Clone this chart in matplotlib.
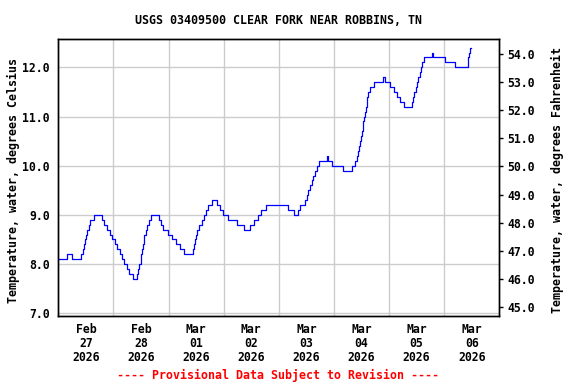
import matplotlib
matplotlib.use("Agg")
import matplotlib.pyplot as plt
from matplotlib.ticker import FixedLocator, NullFormatter

# hours since Feb 27 2026 00:00 where the reading changes, and the new reading (deg C)
hours = [0.0, 3.6, 5.8, 10.1, 10.6, 11.2, 11.7, 12.2, 12.7, 13.2, 14.0, 15.7,
         19.2, 20.1, 21.0, 22.3, 23.4, 24.6, 25.6, 26.8, 27.9, 28.8, 29.8, 30.6,
         32.5, 34.1, 34.8, 35.3, 35.8, 36.2, 36.5, 36.8, 37.1, 37.5, 38.0, 38.6,
         39.3, 40.4, 44.0, 44.8, 45.6, 47.9, 49.7, 51.4, 53.0, 54.6, 58.5, 58.9,
         59.4, 59.9, 60.5, 61.2, 62.6, 63.3, 64.2, 65.1, 66.9, 69.0, 70.6, 71.8,
         74.0, 77.6, 80.8, 83.3, 85.1, 86.8, 88.1, 90.5, 100.1, 102.6, 104.4, 105.3,
         107.5, 108.1, 108.9, 109.8, 110.5, 111.0, 111.6, 112.5, 113.4, 116.8, 117.6, 119.2,
         124.0, 127.7, 129.2, 129.9, 130.5, 131.0, 131.4, 131.8, 132.1, 132.5, 132.8, 133.2,
         133.5, 133.9, 134.2, 134.6, 135.0, 135.6, 137.4, 141.4, 142.3, 144.6, 146.0, 147.5,
         148.9, 150.4, 153.8, 154.4, 155.0, 155.6, 156.1, 156.8, 157.5, 158.0, 158.5, 159.3,
         162.5, 163.0, 168.5, 172.6, 178.2, 178.6, 179.0, 179.4, 179.6]
temps = [8.1, 8.2, 8.1, 8.2, 8.3, 8.4, 8.5, 8.6, 8.7, 8.8, 8.9, 9.0,
         8.9, 8.8, 8.7, 8.6, 8.5, 8.4, 8.3, 8.2, 8.1, 8.0, 7.9, 7.8,
         7.7, 7.8, 7.9, 8.0, 8.1, 8.2, 8.3, 8.4, 8.5, 8.6, 8.7, 8.8,
         8.9, 9.0, 8.9, 8.8, 8.7, 8.6, 8.5, 8.4, 8.3, 8.2, 8.3, 8.4,
         8.5, 8.6, 8.7, 8.8, 8.9, 9.0, 9.1, 9.2, 9.3, 9.2, 9.1, 9.0,
         8.9, 8.8, 8.7, 8.8, 8.9, 9.0, 9.1, 9.2, 9.1, 9.0, 9.1, 9.2,
         9.3, 9.4, 9.5, 9.6, 9.7, 9.8, 9.9, 10.0, 10.1, 10.2, 10.1, 10.0,
         9.9, 10.0, 10.1, 10.2, 10.3, 10.4, 10.5, 10.6, 10.7, 10.8, 10.9, 11.0,
         11.1, 11.2, 11.3, 11.4, 11.5, 11.6, 11.7, 11.8, 11.7, 11.6, 11.5, 11.4,
         11.3, 11.2, 11.3, 11.4, 11.5, 11.6, 11.7, 11.8, 11.9, 12.0, 12.1, 12.2,
         12.3, 12.2, 12.1, 12.0, 12.1, 12.2, 12.3, 12.4, 12.4]

day_labels = ["Feb\n27\n2026", "Feb\n28\n2026", "Mar\n01\n2026", "Mar\n02\n2026",
              "Mar\n03\n2026", "Mar\n04\n2026", "Mar\n05\n2026", "Mar\n06\n2026"]
c_ticks = [7.0, 8.0, 9.0, 10.0, 11.0, 12.0]
f_ticks = [45.0, 46.0, 47.0, 48.0, 49.0, 50.0, 51.0, 52.0, 53.0, 54.0]

title = "USGS 03409500 CLEAR FORK NEAR ROBBINS, TN"
note = "---- Provisional Data Subject to Revision ----"

mono = "DejaVu Sans Mono"
plt.rcParams["font.family"] = mono
plt.rcParams["font.weight"] = "bold"

fig = plt.figure(figsize=(5.76, 3.84), dpi=100)
ax = fig.add_axes([0.1012, 0.1771, 0.7656, 0.7206])

ax.plot(hours, temps, color="#0000ff", lw=0.9, drawstyle="steps-post", zorder=3)

ax.set_xlim(0, 24 * len(day_labels))
ax.set_ylim(6.945, 12.57)

# gridlines at midnight, labels at noon
ax.xaxis.set_major_locator(FixedLocator([24 * i for i in range(1, len(day_labels))]))
ax.xaxis.set_major_formatter(NullFormatter())
ax.xaxis.set_minor_locator(FixedLocator([24 * i + 12 for i in range(len(day_labels))]))
ax.set_xticklabels(day_labels, minor=True)
ax.tick_params(axis="x", which="both", length=0)
ax.tick_params(axis="x", which="minor", pad=5, labelsize=8.3)
for t in ax.xaxis.get_minorticklabels():
    t.set_linespacing(1.1)
    t.set_fontweight("bold")

ax.set_yticks(c_ticks)
ax.set_yticklabels(["%.1f" % v for v in c_ticks], fontweight="bold")
ax.tick_params(axis="y", length=0, pad=6, labelsize=8.3)
ax.grid(True, color="#cccccc", lw=1.0, zorder=0)
ax.set_axisbelow(True)

ax.set_ylabel("Temperature, water, degrees Celsius", fontsize=8.4, fontweight="bold")
ax.yaxis.set_label_coords(-0.087, 0.49)

ax2 = ax.twinx()
ax2.set_ylim(44.68, 54.52)
ax2.set_yticks(f_ticks)
ax2.set_yticklabels(["%.1f" % v for v in f_ticks], fontweight="bold")
ax2.tick_params(axis="y", length=3, width=1, pad=3, labelsize=8.3)
ax2.set_ylabel("Temperature, water, degrees Fahrenheit", fontsize=8.4, fontweight="bold")
ax2.yaxis.set_label_coords(1.118, 0.49)

for a in (ax, ax2):
    for s in a.spines.values():
        s.set_linewidth(1.0)
        s.set_color("black")

ax.set_title(title, fontsize=8.4, fontweight="bold", pad=11)
fig.text(0.4835, 0.023, note, color="red", fontsize=8.4, fontweight="bold",
         ha="center", va="center")

fig.savefig("out.png", dpi=100)
